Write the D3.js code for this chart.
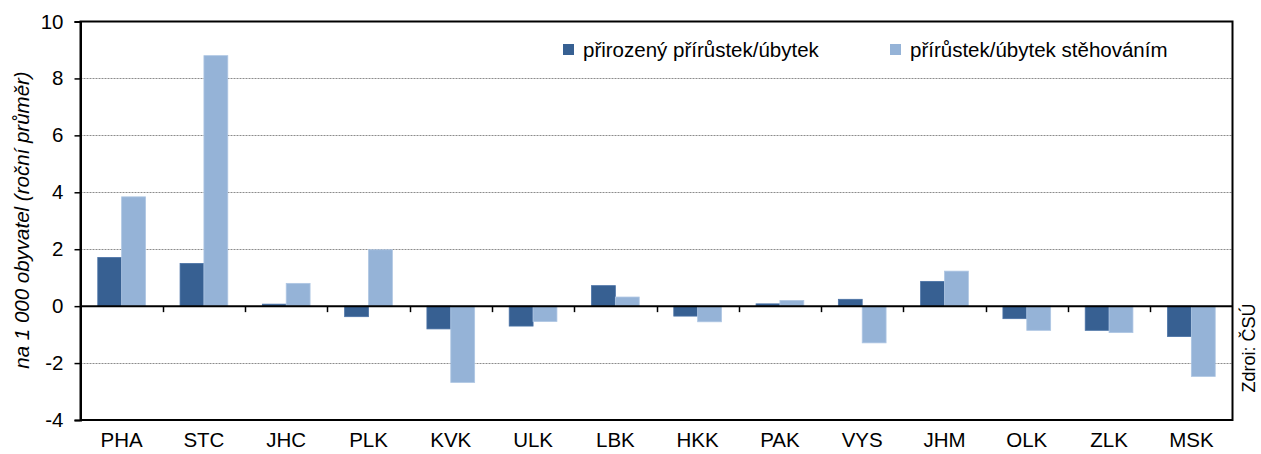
<!DOCTYPE html>
<html>
<head>
<meta charset="utf-8">
<script src="https://cdn.jsdelivr.net/npm/d3@7"></script>
<style>
  html, body { margin: 0; padding: 0; background: #fff; }
  svg { display: block; font-family: "Liberation Sans", Arial, sans-serif; }
</style>
</head>
<body>
<svg id="chart" width="1261" height="454"></svg>
<script>
// Kraje (regions) and average annual rates per 1 000 inhabitants
const regions = ["PHA", "STC", "JHC", "PLK", "KVK", "ULK", "LBK", "HKK", "PAK", "VYS", "JHM", "OLK", "ZLK", "MSK"];
const naturalChange = [1.71, 1.50, 0.07, -0.37, -0.80, -0.70, 0.72, -0.35, 0.08, 0.24, 0.87, -0.44, -0.85, -1.07];
const migrationChange = [3.84, 8.80, 0.80, 1.98, -2.68, -0.54, 0.32, -0.55, 0.20, -1.29, 1.23, -0.85, -0.93, -2.47];
const seriesNames = ["přirozený přírůstek/úbytek", "přírůstek/úbytek stěhováním"];
const seriesColors = ["#376092", "#95b3d7"];
const yTicks = [-4, -2, 0, 2, 4, 6, 8, 10];

const svg = d3.select("#chart");
const FONT = 20.5;
const margin = { left: 80.5, right: 28.5, top: 21.5, bottom: 34 };
const W = 1261, H = 454;
const x0 = margin.left, x1 = W - margin.right;
const y0 = margin.top, y1 = H - margin.bottom;

const x = d3.scaleBand().domain(regions).range([x0, x1]).paddingInner(0).paddingOuter(0);
const y = d3.scaleLinear().domain([-4, 10]).range([y1, y0]);
const groupW = x.bandwidth() * 0.58;
const xs = d3.scaleBand().domain([0, 1]).range([0, groupW]);

// dashed gridlines
svg.append("g")
  .selectAll("line")
  .data(yTicks.filter(t => t !== 0 && t !== 10 && t !== -4))
  .join("line")
  .attr("x1", x0).attr("x2", x1)
  .attr("y1", d => Math.round(y(d)) + 0.5).attr("y2", d => Math.round(y(d)) + 0.5)
  .attr("stroke", "#8c8c8c").attr("stroke-width", 1).attr("stroke-dasharray", "2,1");

// bars
const rows = regions.map((r, i) => ({ r, v: [naturalChange[i], migrationChange[i]] }));
const groups = svg.append("g").selectAll("g")
  .data(rows).join("g")
  .attr("transform", d => `translate(${x(d.r) + (x.bandwidth() - groupW) / 2},0)`);
groups.selectAll("rect")
  .data(d => d.v.map((v, k) => ({ v, k })))
  .join("rect")
  .attr("x", d => xs(d.k))
  .attr("width", xs.bandwidth())
  .attr("y", d => y(Math.max(0, d.v)))
  .attr("height", d => Math.abs(y(d.v) - y(0)))
  .attr("fill", d => seriesColors[d.k])
  .attr("stroke", d => d.k === 0 ? "#4a72a6" : "#aec6e3")
  .attr("stroke-width", 0.8);

// plot frame
svg.append("rect")
  .attr("x", x0).attr("y", y0).attr("width", x1 - x0).attr("height", y1 - y0)
  .attr("fill", "none").attr("stroke", "#000").attr("stroke-width", 2);

// y axis (hyphen as minus sign)
const yAxis = d3.axisLeft(y).tickValues(yTicks).tickSize(6).tickPadding(8)
  .tickFormat(d => String(d));
const ya = svg.append("g").attr("transform", `translate(${x0},0)`).call(yAxis);
ya.select(".domain").attr("stroke", "#000").attr("stroke-width", 2);
ya.selectAll(".tick line").attr("stroke", "#000").attr("stroke-width", 1.5);
ya.selectAll(".tick text").attr("font-size", FONT).attr("fill", "#000")
  .attr("font-family", "Liberation Sans, Arial, sans-serif").attr("dx", -3);

// zero line with category separator ticks
svg.append("line")
  .attr("x1", x0).attr("x2", x1).attr("y1", y(0)).attr("y2", y(0))
  .attr("stroke", "#000").attr("stroke-width", 2);
svg.append("g").selectAll("line")
  .data(regions.slice(1))
  .join("line")
  .attr("x1", d => Math.round(x(d)) + 0.5).attr("x2", d => Math.round(x(d)) + 0.5)
  .attr("y1", y(0)).attr("y2", y(0) + 6)
  .attr("stroke", "#000").attr("stroke-width", 1.5);

// category labels
const xAxis = d3.axisBottom(x).tickSize(0).tickPadding(12);
const xa = svg.append("g").attr("transform", `translate(0,${y1})`).call(xAxis);
xa.select(".domain").remove();
xa.selectAll(".tick text").attr("font-size", FONT).attr("fill", "#000")
  .attr("font-family", "Liberation Sans, Arial, sans-serif");

// y axis title
svg.append("text")
  .attr("transform", `translate(29,220) rotate(-90)`)
  .attr("text-anchor", "middle")
  .attr("font-size", FONT).attr("font-style", "italic").attr("fill", "#000")
  .text("na 1 000 obyvatel (roční průměr)");

// source note
svg.append("text")
  .attr("transform", `translate(1255,348) rotate(-90)`)
  .attr("text-anchor", "middle")
  .attr("font-size", 18).attr("fill", "#000")
  .text("Zdroi: ČSÚ");

// legend
const legendX = [563, 890];
const leg = svg.append("g").selectAll("g")
  .data(seriesNames).join("g")
  .attr("transform", (d, i) => `translate(${legendX[i]},44)`);
leg.append("rect").attr("width", 11).attr("height", 11)
  .attr("fill", (d, i) => seriesColors[i]);
leg.append("text").attr("x", 20).attr("y", 13)
  .attr("font-size", FONT).attr("fill", "#000").text(d => d);
</script>
</body>
</html>
